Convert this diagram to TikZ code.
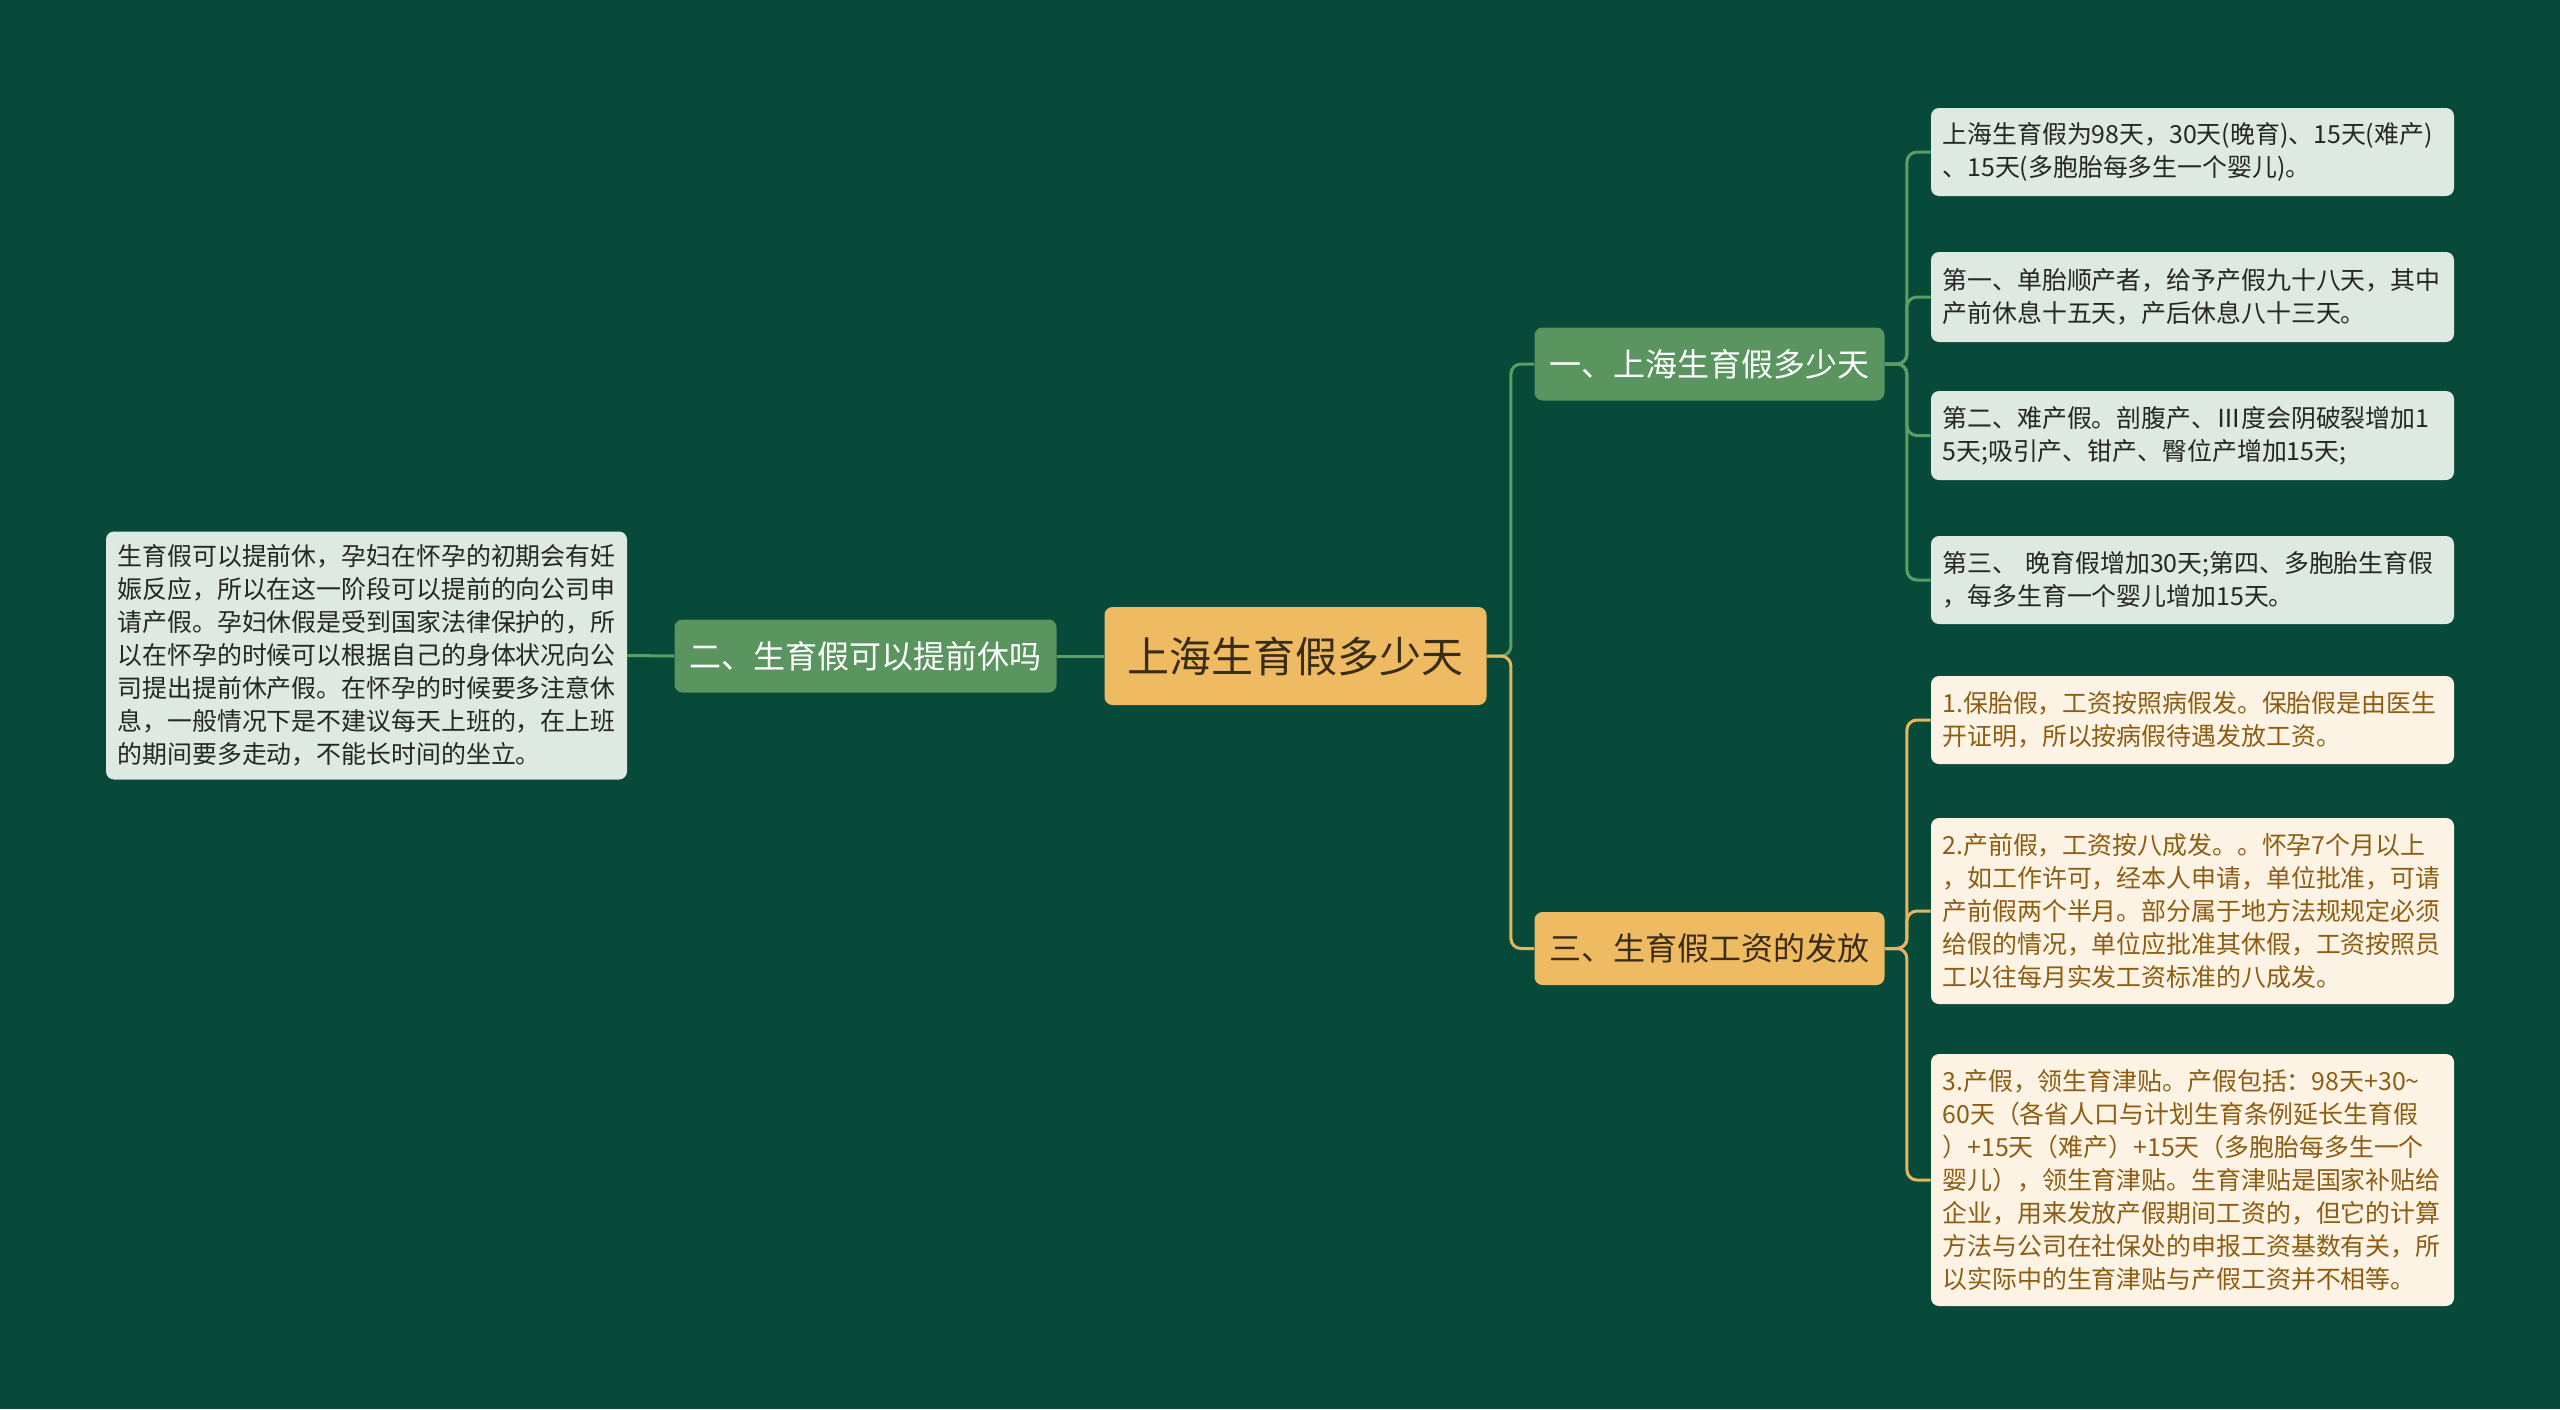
\documentclass[tikz,border=0pt]{standalone}
\usepackage{fontspec}
\setmainfont{Noto Sans CJK SC}
\definecolor{bgcol}{HTML}{084A39}
\definecolor{gmid}{HTML}{5A9560}
\definecolor{gline}{HTML}{5E9E66}
\definecolor{glight}{HTML}{DDE9E1}
\definecolor{ymid}{HTML}{EFBB62}
\definecolor{yline}{HTML}{E6B65E}
\definecolor{ylight}{HTML}{FDF3E4}
\definecolor{ytext}{HTML}{8C5D12}
\definecolor{rtext}{HTML}{3A2C17}

\begin{document}
\begin{tikzpicture}[x=0.5pt,y=-0.5pt,
  box/.style={rounded corners=4pt,inner sep=0pt},
  rootbox/.style={box,fill=ymid,text=rtext,minimum width=191pt,minimum height=49pt,
    font=\fontsize{21}{25}\selectfont},
  gbranch/.style={box,fill=gmid,text=white,minimum width=175pt,minimum height=36.5pt,
    font=\fontsize{16}{19}\selectfont},
  ybranch/.style={gbranch,fill=ymid,text=rtext},
  gleaf/.style={box,fill=glight,text=black!85,inner xsep=5.75pt,text width=250pt,
    align=left,font=\fontsize{12.45}{16.5}\selectfont},
  yleaf/.style={gleaf,fill=ylight,text=ytext},
  glink/.style={draw=gline,line width=1.5pt,rounded corners=5pt},
  ylink/.style={draw=yline,line width=1.5pt,rounded corners=5pt}]
  \fill[bgcol] (0,0) rectangle (2560,1409);
  \useasboundingbox (0,0) rectangle (2560,1409);

  \node[rootbox] (root) at (1295.5,656) {上海生育假多少天};
  \node[gbranch] (b1) at (1709.5,364) {一、上海生育假多少天};
  \node[gbranch,minimum width=191pt] (b2) at (865.5,656) {二、生育假可以提前休吗};
  \node[ybranch] (b3) at (1709.5,948.5) {三、生育假工资的发放};

  \node[gleaf,text width=249pt,minimum height=124pt] (left) at (366.5,655.5)
    {生育假可以提前休，孕妇在怀孕的初期会有妊\\
     娠反应，所以在这一阶段可以提前的向公司申\\
     请产假。孕妇休假是受到国家法律保护的，所\\
     以在怀孕的时候可以根据自己的身体状况向公\\
     司提出提前休产假。在怀孕的时候要多注意休\\
     息，一般情况下是不建议每天上班的，在上班\\
     的期间要多走动，不能长时间的坐立。};

  \node[gleaf,minimum height=44pt] (l1) at (2192.5,152)
    {上海生育假为98天，30天(晚育)、15天(难产)\\、15天(多胞胎每多生一个婴儿)。};
  \node[gleaf,minimum height=45pt] (l2) at (2192.5,297)
    {第一、单胎顺产者，给予产假九十八天，其中\\产前休息十五天，产后休息八十三天。};
  \node[gleaf,minimum height=44.5pt] (l3) at (2192.5,435.5)
    {第二、难产假。剖腹产、Ⅲ度会阴破裂增加1\\5天;吸引产、钳产、臀位产增加15天;};
  \node[gleaf,minimum height=44pt] (l4) at (2192.5,580)
    {第三、 晚育假增加30天;第四、多胞胎生育假\\，每多生育一个婴儿增加15天。};

  \node[yleaf,minimum height=44pt] (y1) at (2192.5,720)
    {1.保胎假，工资按照病假发。保胎假是由医生\\开证明，所以按病假待遇发放工资。};
  \node[yleaf,minimum height=93pt] (y2) at (2192.5,911)
    {2.产前假，工资按八成发。。怀孕7个月以上\\
     ，如工作许可，经本人申请，单位批准，可请\\
     产前假两个半月。部分属于地方法规规定必须\\
     给假的情况，单位应批准其休假，工资按照员\\
     工以往每月实发工资标准的八成发。};
  \node[yleaf,minimum height=126pt] (y3) at (2192.5,1180)
    {3.产假，领生育津贴。产假包括：98天+30\textasciitilde\\
     60天（各省人口与计划生育条例延长生育假\\
     ）+15天（难产）+15天（多胞胎每多生一个\\
     婴儿），领生育津贴。生育津贴是国家补贴给\\
     企业，用来发放产假期间工资的，但它的计算\\
     方法与公司在社保处的申报工资基数有关，所\\
     以实际中的生育津贴与产假工资并不相等。};

  % links
  \draw[glink] (root.west) -- (b2.east);
  \draw[glink] (b2.west) -- (left.east);
  \draw[glink] (root.east) -- ++(24,0) |- (b1.west);
  \draw[ylink] (root.east) -- ++(24,0) |- (b3.west);
  \foreach \n in {l1,l2,l3,l4}
    \draw[glink] (b1.east) -- ++(22,0) |- (\n.west);
  \foreach \n in {y1,y2,y3}
    \draw[ylink] (b3.east) -- ++(22,0) |- (\n.west);
\end{tikzpicture}
\end{document}
